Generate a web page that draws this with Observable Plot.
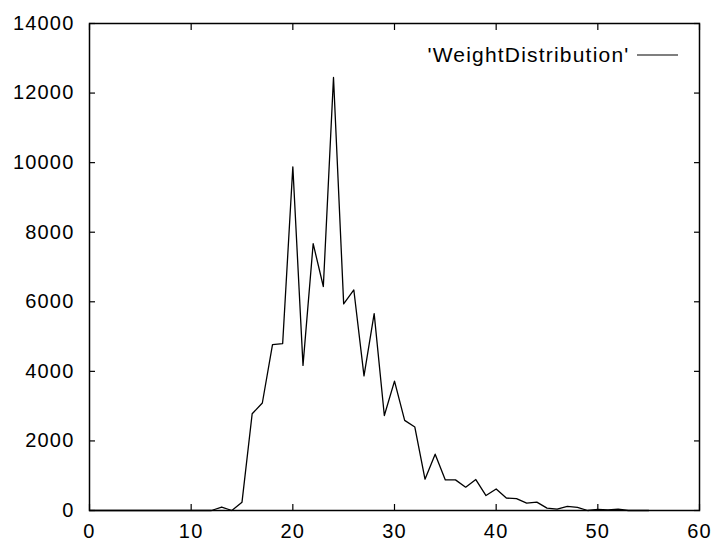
<!DOCTYPE html>
<html>
<head>
<meta charset="utf-8">
<script src="https://cdn.jsdelivr.net/npm/d3@7"></script>
<script src="https://cdn.jsdelivr.net/npm/@observablehq/plot@0.6"></script>
<style>
  html, body { margin: 0; padding: 0; background: #fff; }
  svg text { letter-spacing: 1.2px; }
</style>
</head>
<body>
<div id="chart"></div>
<script>
const weights = [0,1,2,3,4,5,6,7,8,9,10,11,12,13,14,15,16,17,18,19,20,21,22,23,24,25,26,27,28,29,30,31,32,33,34,35,36,37,38,39,40,41,42,43,44,45,46,47,48,49,50,51,52,53,54,55];
const counts  = [0,0,0,0,0,0,0,0,0,0,0,0,0,100,0,240,2780,3090,4770,4800,9880,4170,7670,6440,12450,5940,6340,3870,5660,2730,3720,2590,2400,900,1620,880,880,670,890,430,620,360,340,210,240,70,40,120,90,0,30,20,40,0,0,0];
const xTicks = [0,10,20,30,40,50,60];
const yTicks = [0,2000,4000,6000,8000,10000,12000,14000];
const seriesName = "'WeightDistribution'";

const data = weights.map((w, i) => ({weight: w, count: counts[i]}));

const legendLine = (index, scales, values, dims) => {
  const x2 = dims.width - dims.marginRight - 21;
  const x1 = dims.width - dims.marginRight - 62;
  const y = dims.marginTop + 32;
  const g = d3.create("svg:line")
    .attr("x1", x1).attr("x2", x2).attr("y1", y).attr("y2", y)
    .attr("stroke", "black").attr("stroke-width", 1.2);
  return g.node();
};

const chart = Plot.plot({
  width: 713,
  height: 542,
  marginLeft: 89,
  marginRight: 14,
  marginTop: 23,
  marginBottom: 32,
  style: {fontFamily: "'Liberation Sans', Arial, sans-serif", fontSize: "20px", color: "black", background: "white"},
  x: {domain: [0, 60]},
  y: {domain: [0, 14000]},
  marks: [
    Plot.axisX({anchor: "bottom", ticks: xTicks, tickSize: -6, text: null, strokeWidth: 1.2, label: null}),
    Plot.axisX({anchor: "top", ticks: xTicks, tickSize: -6, text: null, strokeWidth: 1.2, label: null}),
    Plot.axisY({anchor: "left", ticks: yTicks, tickSize: -6, text: null, strokeWidth: 1.2, label: null}),
    Plot.axisY({anchor: "right", ticks: yTicks, tickSize: -6, text: null, strokeWidth: 1.2, label: null}),
    Plot.axisX({anchor: "bottom", ticks: xTicks, tickSize: 0, tickPadding: 13, tickFormat: d => String(d), label: null}),
    Plot.axisY({anchor: "left", ticks: yTicks, tickSize: 0, tickPadding: 15, tickFormat: d => String(d), label: null}),
    Plot.line(data, {x: "weight", y: "count", stroke: "black", strokeWidth: 1.3}),
    Plot.frame({stroke: "black", strokeWidth: 1.5}),
    Plot.text([seriesName], {frameAnchor: "top-right", dx: -70, dy: 32, textAnchor: "end", lineAnchor: "middle", fill: "black", fontSize: 21}),
    legendLine
  ]
});
document.getElementById("chart").appendChild(chart);
</script>
</body>
</html>
